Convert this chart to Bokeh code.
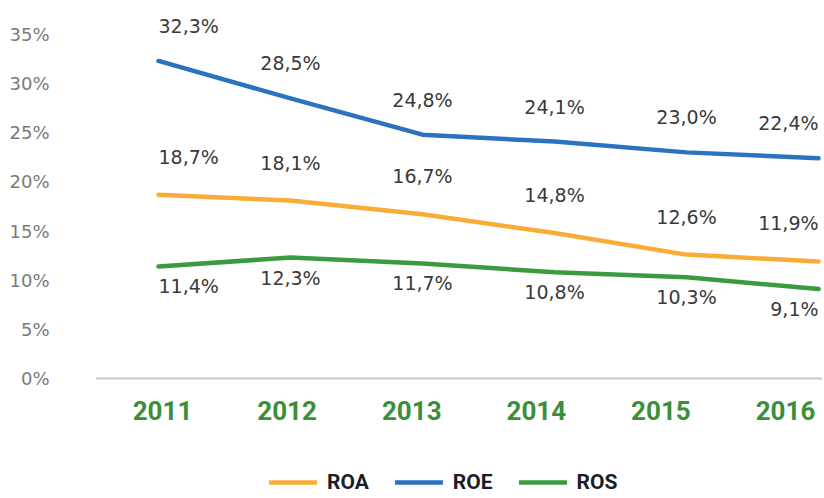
from bokeh.plotting import figure
from bokeh.models import (Range1d, FixedTicker, PrintfTickFormatter, Span,
                          Legend, LegendItem, ColumnDataSource)
from bokeh.core.properties import value
from bokeh.embed import file_html
from bokeh.resources import INLINE

years = ["2011", "2012", "2013", "2014", "2015", "2016"]
roa = [18.7, 18.1, 16.7, 14.8, 12.6, 11.9]
roe = [32.3, 28.5, 24.8, 24.1, 23.0, 22.4]
ros = [11.4, 12.3, 11.7, 10.8, 10.3, 9.1]
y_ticks = [0, 5, 10, 15, 20, 25, 30, 35]

idx = list(range(len(years)))
n = len(years)
aligns = ["left"] + ["center"] * (n - 2) + ["right"]


def fmt(v):
    return f"{v:.1f}".replace(".", ",") + "%"


BLUE = "#2b72c1"
ORANGE = "#f9ac38"
GREEN = "#3b9a3f"
LABEL_FONT = value("DejaVu Sans")

p = figure(frame_width=727, frame_height=498,
           x_range=Range1d(-0.477, 5.03), y_range=Range1d(-12.21, 38.45),
           x_axis_location=None, output_backend="svg", toolbar_location=None,
           min_border_left=95, min_border_right=2, min_border_top=0, min_border_bottom=0,
           background_fill_color="white", border_fill_color="white")
p.outline_line_color = None
p.xgrid.visible = False
p.ygrid.visible = False

# year labels are laid out on their own evenly spaced scale
p.extra_x_ranges = {"labels": Range1d(-0.538, 5.297)}

# baseline at 0%
p.add_layout(Span(location=0, dimension="width", line_color="#c8c8c8", line_width=2))

p.text(x=idx, y=[0] * n, text=years, x_range_name="labels", text_align="center",
       text_baseline="middle", y_offset=32, text_font=value("Roboto"),
       text_font_style="bold", text_font_size="26px", text_color="#3a8f38")

yaxis = p.yaxis[0]
yaxis.ticker = FixedTicker(ticks=y_ticks)
yaxis.formatter = PrintfTickFormatter(format="%d%%")
yaxis.axis_line_color = None
yaxis.major_tick_line_color = None
yaxis.minor_tick_line_color = None
yaxis.major_label_standoff = 40
yaxis.major_label_text_font = "DejaVu Sans"
yaxis.major_label_text_font_size = "18px"
yaxis.major_label_text_color = "#7a7a7a"

series = [("ROA", roa, ORANGE, -38), ("ROE", roe, BLUE, -35), ("ROS", ros, GREEN, 20)]
items = []
for name, vals, color, off in series:
    src = ColumnDataSource(dict(x=idx, y=vals, t=[fmt(v) for v in vals], a=aligns))
    r = p.line("x", "y", source=src, line_color=color, line_width=4.5, line_cap="round",
               line_join="round")
    p.text("x", "y", text="t", source=src, text_align="a", text_baseline="middle",
           y_offset=off, text_font=LABEL_FONT, text_font_size="19px", text_color="#3a3a3a")
    items.append(LegendItem(label=name, renderers=[r]))

legend = Legend(items=items, orientation="horizontal", location=(174, 4),
                glyph_width=48, glyph_height=20, label_standoff=10, spacing=26,
                border_line_color=None, background_fill_alpha=0,
                label_text_font="Roboto", label_text_font_style="bold",
                label_text_font_size="21px", label_text_color="#1c1c2a",
                margin=0, padding=3)
p.add_layout(legend, "center")

open("out.html", "w").write(file_html(p, INLINE))
